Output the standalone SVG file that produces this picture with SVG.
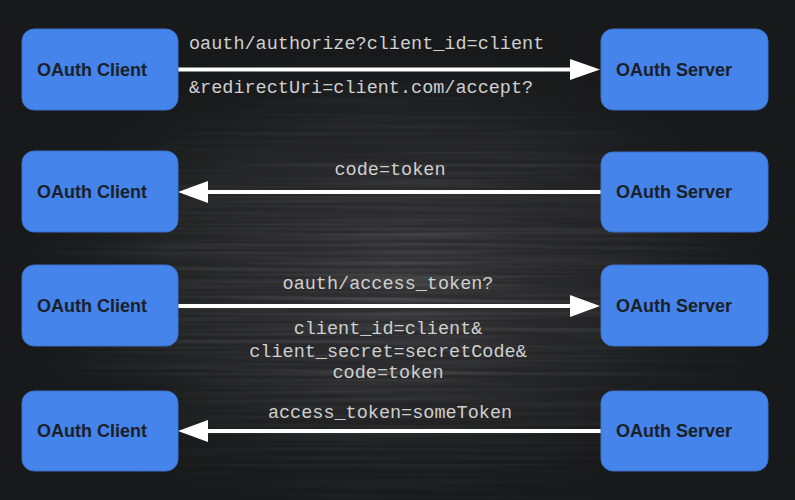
<svg xmlns="http://www.w3.org/2000/svg" width="795" height="500" viewBox="0 0 795 500">
<defs>
<style>
.box{fill:#4584ea;stroke:#3b70c9;stroke-width:1}
.lbl{font-family:"Liberation Sans",Arial,sans-serif;font-weight:bold;font-size:18px;fill:#1b1f29}
.msg{font-family:"Liberation Mono","Courier New",monospace;font-size:18.5px;fill:#cfcfcf}
.line{stroke:#ffffff;stroke-width:4;fill:none}
.head{fill:#ffffff}
</style>
<radialGradient id="glow" cx="0.5" cy="0.55" r="0.5">
<stop offset="0" stop-color="#3a3a3c" stop-opacity="0.8"/>
<stop offset="0.6" stop-color="#2a2a2c" stop-opacity="0.6"/>
<stop offset="1" stop-color="#18191b" stop-opacity="0"/>
</radialGradient>
<filter id="streaks" x="0" y="0" width="100%" height="100%">
<feTurbulence type="fractalNoise" baseFrequency="0.004 0.25" numOctaves="2" seed="3" result="n"/>
<feColorMatrix in="n" type="matrix" values="0 0 0 0 1  0 0 0 0 1  0 0 0 0 1  0.35 0.35 0.35 0 -0.45"/>
</filter>
<radialGradient id="mask" cx="0.5" cy="0.6" r="0.5">
<stop offset="0" stop-color="#fff" stop-opacity="1"/>
<stop offset="1" stop-color="#fff" stop-opacity="0"/>
</radialGradient>
<mask id="m"><rect width="795" height="500" fill="url(#mask)"/></mask>
</defs>
<rect width="795" height="500" fill="#18191b"/>
<rect width="795" height="500" fill="url(#glow)"/>
<rect width="795" height="500" filter="url(#streaks)" mask="url(#m)" opacity="0.5"/>

<g id="connectors">
<g id="c1"><line class="line" x1="178" y1="69.5" x2="572" y2="69.5"/><polygon class="head" points="570,59 600,69.5 570,80"/></g>
<g id="c2"><line class="line" x1="206" y1="192" x2="601" y2="192"/><polygon class="head" points="208,181 178,192 208,203"/></g>
<g id="c3"><line class="line" x1="178" y1="306" x2="572" y2="306"/><polygon class="head" points="570,295 600,306 570,317"/></g>
<g id="c4"><line class="line" x1="206" y1="431" x2="601" y2="431"/><polygon class="head" points="208,420 178,431 208,442"/></g>
<text class="msg" x="189" y="49">oauth/authorize?client_id=client</text>
<text class="msg" x="189" y="93">&amp;redirectUri=client.com/accept?</text>
<text class="msg" x="390" y="175" text-anchor="middle">code=token</text>
<text class="msg" x="388" y="289" text-anchor="middle">oauth/access_token?</text>
<text class="msg" x="388" y="334" text-anchor="middle">client_id=client&amp;</text>
<text class="msg" x="388" y="357" text-anchor="middle">client_secret=secretCode&amp;</text>
<text class="msg" x="388" y="378" text-anchor="middle">code=token</text>
<text class="msg" x="390" y="418" text-anchor="middle">access_token=someToken</text>
</g>

<g id="client1"><rect class="box" x="22" y="29" width="156" height="81" rx="12"/><text class="lbl" x="37" y="76">OAuth Client</text></g>
<g id="server1"><rect class="box" x="601" y="29" width="167" height="81" rx="12"/><text class="lbl" x="616" y="76">OAuth Server</text></g>
<g id="client2"><rect class="box" x="22" y="151" width="156" height="81" rx="12"/><text class="lbl" x="37" y="198">OAuth Client</text></g>
<g id="server2"><rect class="box" x="601" y="152" width="167" height="80" rx="12"/><text class="lbl" x="616" y="198">OAuth Server</text></g>
<g id="client3"><rect class="box" x="22" y="265" width="156" height="81" rx="12"/><text class="lbl" x="37" y="312">OAuth Client</text></g>
<g id="server3"><rect class="box" x="601" y="265" width="167" height="81" rx="12"/><text class="lbl" x="616" y="312">OAuth Server</text></g>
<g id="client4"><rect class="box" x="22" y="391" width="156" height="80" rx="12"/><text class="lbl" x="37" y="437">OAuth Client</text></g>
<g id="server4"><rect class="box" x="601" y="391" width="167" height="80" rx="12"/><text class="lbl" x="616" y="437">OAuth Server</text></g>
</svg>
